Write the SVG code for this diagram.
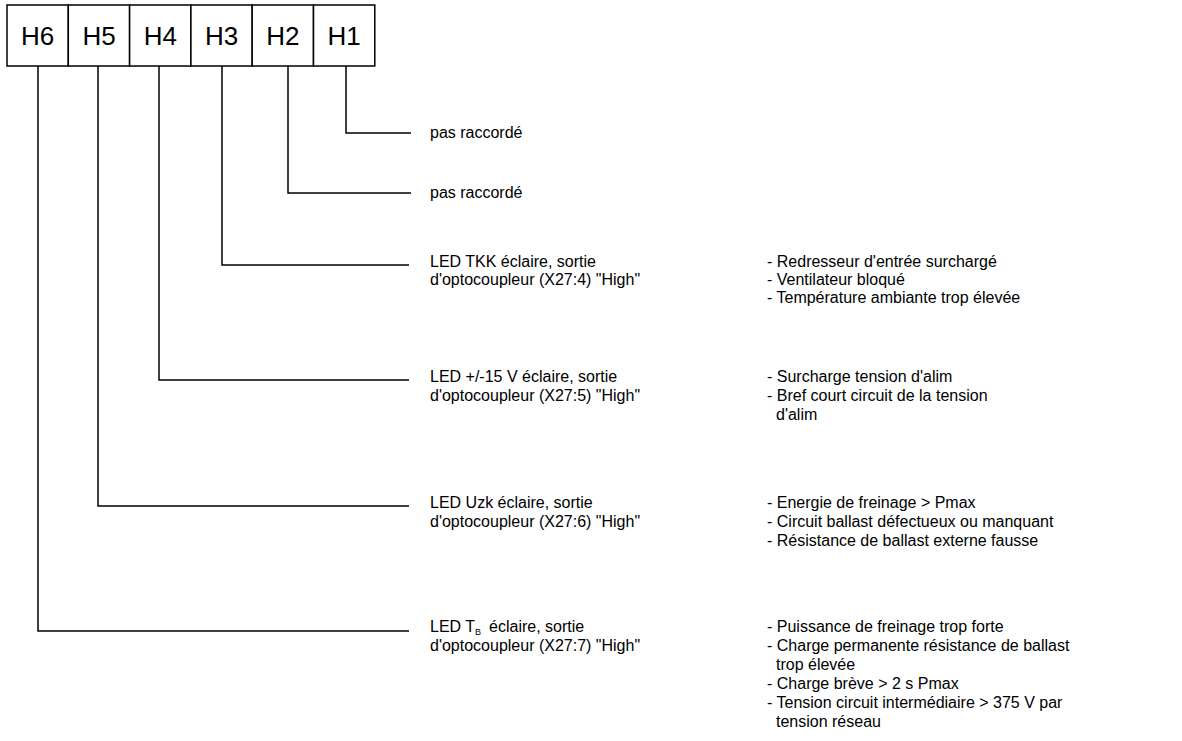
<svg xmlns="http://www.w3.org/2000/svg" width="1182" height="741" viewBox="0 0 1182 741">
<style>
.box{fill:#fff;stroke:#000;stroke-width:1.5}
.lbl{font-family:"Liberation Sans",Arial,sans-serif;font-size:26px;fill:#000;text-anchor:middle}
.t{font-family:"Liberation Sans",Arial,sans-serif;font-size:16px;fill:#000}
.w{fill:none;stroke:#000;stroke-width:1.5}
</style>
<rect width="1182" height="741" fill="#fff"/>
<g id="H6"><rect class="box" x="7" y="5" width="61.3" height="61"/><text class="lbl" x="37.7" y="45">H6</text></g>
<g id="H5"><rect class="box" x="68.3" y="5" width="61.3" height="61"/><text class="lbl" x="99" y="45">H5</text></g>
<g id="H4"><rect class="box" x="129.6" y="5" width="61.3" height="61"/><text class="lbl" x="160.3" y="45">H4</text></g>
<g id="H3"><rect class="box" x="190.9" y="5" width="61.3" height="61"/><text class="lbl" x="221.6" y="45">H3</text></g>
<g id="H2"><rect class="box" x="252.2" y="5" width="61.3" height="61"/><text class="lbl" x="282.9" y="45">H2</text></g>
<g id="H1"><rect class="box" x="313.5" y="5" width="61.3" height="61"/><text class="lbl" x="344.2" y="45">H1</text></g>
<g id="connectors">
<polyline class="w" points="346,66 346,133 411,133"/>
<polyline class="w" points="288,66 288,193 411,193"/>
<polyline class="w" points="222,66 222,265 409,265"/>
<polyline class="w" points="159,66 159,380 409,380"/>
<polyline class="w" points="98,66 98,506 409,506"/>
<polyline class="w" points="38,66 38,631 409,631"/>
</g>
<g id="desc-H1"><text class="t" x="430" y="138">pas raccordé</text></g>
<g id="desc-H2"><text class="t" x="430" y="198">pas raccordé</text></g>
<g id="desc-H3">
<text class="t" x="430" y="267">LED TKK éclaire, sortie</text>
<text class="t" x="430" y="285">d'optocoupleur (X27:4) "High"</text>
<text class="t" x="767" y="267">- Redresseur d'entrée surchargé</text>
<text class="t" x="767" y="285">- Ventilateur bloqué</text>
<text class="t" x="767" y="303">- Température ambiante trop élevée</text>
</g>
<g id="desc-H4">
<text class="t" x="430" y="382">LED +/-15 V éclaire, sortie</text>
<text class="t" x="430" y="401">d'optocoupleur (X27:5) "High"</text>
<text class="t" x="767" y="382">- Surcharge tension d'alim</text>
<text class="t" x="767" y="401">- Bref court circuit de la tension</text>
<text class="t" x="776" y="420">d'alim</text>
</g>
<g id="desc-H5">
<text class="t" x="430" y="508">LED Uzk éclaire, sortie</text>
<text class="t" x="430" y="527">d'optocoupleur (X27:6) "High"</text>
<text class="t" x="767" y="508">- Energie de freinage &gt; Pmax</text>
<text class="t" x="767" y="527">- Circuit ballast défectueux ou manquant</text>
<text class="t" x="767" y="546">- Résistance de ballast externe fausse</text>
</g>
<g id="desc-H6">
<text class="t" x="430" y="632">LED T<tspan font-size="9" dy="3">B</tspan><tspan dy="-3" dx="8">éclaire, sortie</tspan></text>
<text class="t" x="430" y="651">d'optocoupleur (X27:7) "High"</text>
<text class="t" x="767" y="632">- Puissance de freinage trop forte</text>
<text class="t" x="767" y="651">- Charge permanente résistance de ballast</text>
<text class="t" x="776" y="670">trop élevée</text>
<text class="t" x="767" y="689">- Charge brève &gt; 2 s Pmax</text>
<text class="t" x="767" y="708">- Tension circuit intermédiaire &gt; 375 V par</text>
<text class="t" x="776" y="727">tension réseau</text>
</g>
</svg>
